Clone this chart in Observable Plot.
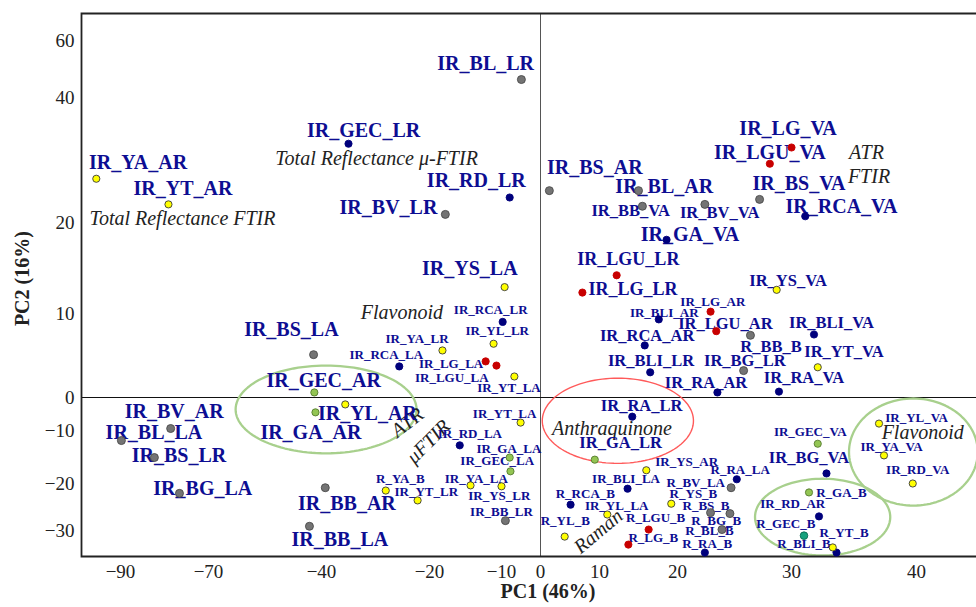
<!DOCTYPE html>
<html><head><meta charset="utf-8">
<script src="https://cdn.jsdelivr.net/npm/d3@7"></script>
<script src="https://cdn.jsdelivr.net/npm/@observablehq/plot@0.6"></script>
<style>html,body{margin:0;padding:0;background:#fff;overflow:hidden}</style>
</head><body><div id="chart"></div>
<script>
// ---------- data (PC scores) ----------
const names = ["IR_YA_AR","IR_YT_AR","IR_BL_LR","IR_GEC_LR","IR_RD_LR","IR_BV_LR","IR_BS_AR","IR_BL_AR","IR_BB_VA","IR_BV_VA","IR_GA_VA","IR_LGU_LR","IR_LG_VA","IR_LGU_VA","IR_BS_VA","IR_RCA_VA","IR_YS_VA","IR_LG_AR","IR_LGU_AR","IR_BLI_VA","R_BB_B","IR_YT_VA","IR_BG_LR","IR_RA_VA","IR_RA_AR","IR_BLI_LR","IR_RCA_AR","IR_BLI_AR","IR_LG_LR","IR_YS_LA","IR_RCA_LR","IR_YL_LR","IR_YA_LR","IR_RCA_LA","IR_LG_LA","IR_LGU_LA","IR_YT_LA","IR_YT_LA","IR_BS_LA","IR_GEC_AR","IR_YL_AR","IR_GA_AR","IR_BV_AR","IR_BL_LA","IR_BS_LR","IR_BG_LA","IR_BB_AR","IR_BB_LA","IR_RD_LA","IR_GA_LA","IR_GEC_LA","IR_YA_LA","IR_YS_LR","IR_BB_LR","R_YA_B","IR_YT_LR","R_YL_B","R_RCA_B","IR_RA_LR","IR_GA_LR","IR_YS_AR","R_RA_LA","IR_BLI_LA","R_BV_LA","R_YS_B","R_BS_B","R_BG_B","R_BL_B","R_RA_B","IR_YL_LA","R_LGU_B","R_LG_B","IR_GEC_VA","IR_BG_VA","R_GA_B","IR_RD_AR","R_GEC_B","R_YT_B","R_BLI_B","IR_YL_VA","IR_YA_VA","IR_RD_VA"];
const groups = ["yellow","yellow","grey","navy","navy","grey","grey","grey","grey","grey","navy","red","red","red","grey","navy","yellow","red","red","navy","grey","yellow","grey","navy","navy","navy","navy","navy","red","yellow","navy","yellow","yellow","navy","red","red","yellow","yellow","grey","green","yellow","green","grey","grey","grey","grey","grey","grey","navy","green","green","yellow","yellow","grey","yellow","yellow","yellow","navy","navy","green","yellow","navy","navy","grey","yellow","grey","grey","grey","navy","yellow","red","red","green","navy","green","navy","teal","yellow","navy","yellow","yellow","yellow"];
const pc1 = [-95.5,-79.1,-4.9,-35.0,-7.9,-17.8,1.5,15.0,15.5,22.4,18.6,12.2,30.0,28.1,27.2,31.1,28.7,22.9,23.4,31.8,26.4,32.1,25.8,28.9,23.5,16.5,15.8,17.6,7.1,-9.2,-9.7,-11.1,-18.2,-25.6,-12.2,-10.7,-6.7,-5.1,-42.1,-41.9,-35.6,-41.6,-78.6,-89.8,-82.3,-76.6,-39.3,-43.2,-15.8,-7.9,-7.7,-14.3,-10.0,-9.0,-28.1,-22.2,4.1,5.1,14.2,9.2,16.0,25.2,13.6,24.7,19.2,22.9,24.6,23.9,22.4,11.0,16.3,13.7,32.1,32.8,31.4,32.2,31.0,33.3,33.6,37.0,37.4,39.7];
const pc2 = [27.0,22.9,46.3,32.6,24.0,21.3,25.1,25.1,22.6,22.9,18.1,14.2,32.0,29.4,23.7,21.0,12.6,10.2,7.9,7.5,7.4,3.6,3.2,0.7,0.6,3.0,6.2,9.3,12.3,12.9,9.0,6.4,5.6,3.7,4.3,3.8,2.5,-7.6,5.1,0.6,-2.1,-4.5,-9.4,-11.9,-15.1,-22.1,-20.9,-29.1,-12.8,-15.1,-17.7,-20.4,-20.6,-27.9,-21.5,-23.6,-31.3,-24.5,-5.8,-15.5,-17.5,-19.2,-21.1,-20.9,-24.3,-26.2,-26.4,-29.8,-34.7,-26.6,-29.8,-33.0,-12.5,-18.1,-21.9,-27.0,-31.1,-33.6,-34.7,-7.9,-14.7,-20.0];
// where each sample name is written (in PC units)
const labelPC1 = [-86.0,-75.8,-12.2,-32.2,-13.5,-27.6,9.2,18.3,14.0,23.7,21.1,13.7,29.7,28.1,30.6,34.0,29.7,23.1,24.2,33.2,28.2,34.2,25.9,31.0,22.5,16.6,16.1,18.3,14.3,-14.4,-11.5,-10.6,-22.3,-28.0,-17.0,-16.9,-8.1,-9.2,-48.0,-39.6,-31.5,-42.8,-77.8,-82.4,-76.7,-71.3,-35.3,-36.6,-14.4,-8.1,-10.6,-13.5,-10.3,-10.0,-25.4,-20.6,4.2,7.6,15.4,12.7,20.8,25.5,13.4,21.6,21.4,22.5,23.4,22.8,22.6,12.2,17.2,16.9,31.5,31.4,34.0,30.1,29.5,34.2,31.0,40.0,38.0,40.1];
const labelPC2 = [29.6,25.4,51.9,34.7,26.7,22.4,28.8,25.8,21.9,21.6,18.7,16.0,35.0,31.2,26.2,22.6,13.6,11.3,8.8,8.9,6.1,5.4,4.4,2.4,1.8,4.4,7.4,10.1,12.7,14.9,10.4,7.9,7.0,5.1,4.0,2.4,1.1,-4.8,8.1,2.0,-4.8,-10.4,-4.2,-10.4,-14.7,-21.1,-24.3,-31.9,-10.6,-13.4,-15.8,-19.1,-22.6,-26.0,-19.1,-21.7,-27.9,-22.1,-2.4,-12.3,-16.0,-17.4,-19.2,-19.8,-22.1,-24.7,-27.9,-30.0,-32.8,-24.7,-27.2,-31.5,-10.2,-15.1,-21.9,-24.3,-28.5,-30.6,-32.8,-6.1,-13.0,-17.4];
const labelTier = ["L","L","L","L","L","L","L","L","M","M","L","L2","L","L","L","L","M","S","M","M","M","M","M","M","M","M","M","S","L2","L","S","S","S","S","S","S","S","S","L","L","L","L","L","L","L","L","L","L","S","S","S","S","S","S","S","S","S","S","M","M","S","S","S","S","S","S","S","S","S","S","S","S","S","M","S","S","S","S","S","S","S","S"];

// italic annotations
const noteText = ["Total Reflectance FTIR","Total Reflectance \u03bc-FTIR","ATR","FTIR","Flavonoid","ATR","\u03bcFTIR","Anthraquinone","Flavonoid","Raman"];
const notePC1 = [-75.9,-29.8,36.0,36.2,-25.1,-24.1,-20.2,11.6,40.5,9.8];
const notePC2 = [20.6,30.2,31.2,27.4,10.1,-7.6,-12.1,-9.4,-10.4,-30.2];
const noteAngle = [0,0,0,0,0,-38,-45,0,0,-40];

// grouping ellipses (bounds in PC units)
const ellipseName = ["ATR \u03bcFTIR","Anthraquinone","Raman","Flavonoid"];
const ellipseKind = ["green","red","green","green"];
const ellipsePC1 = [[-62.8,-22.4],[0.3,21.4],[26.8,37.9],[34.6,44.9]];
const ellipsePC2 = [[-14.3,3.8],[-16.2,2.3],[-35.3,-19.1],[-24.7,-0.3]];

// axis ticks (the figure's axes are non-uniform)
const xTicks = [-90,-70,-40,-20,-10,0,10,20,30,40];
const yTicks = [-30,-20,-10,0,10,20,40,60];
const axisTitles = ["PC1 (46%)","PC2 (16%)"];
const yTitleAt = 8.5; // PC2 value at which the rotated y title is centred

// ---------- layout ----------
const W = 976, H = 607, mL = 81, mT = 13, mR = 0, mB = 51;
const xStops = [120,208,321,429,501,540,599,677,791,916];
const yStops = [530,483,430,397,313,222,97,40];
const serif = "'Liberation Serif', 'Times New Roman', serif";
const labelColor = "#0d0d92";
const dotStyle = {
  grey:   {fill:"#747474", stroke:"#4a4a4a", r:4},
  navy:   {fill:"#00007c", stroke:"#00007c", r:3.6},
  red:    {fill:"#c80000", stroke:"#c80000", r:3.6},
  yellow: {fill:"#ffff00", stroke:"#3a3a3a", r:3.6},
  green:  {fill:"#93c553", stroke:"#557a2e", r:3.6},
  teal:   {fill:"#16a27c", stroke:"#0b6a50", r:3.8}
};
const ellipseStroke = {green:"#a8d08d", red:"#ff5a5a"};
const tierSize = {L:20, L2:18, M:16.5, S:13};

const rows = names.map((n,i)=>({name:n, group:groups[i], x:pc1[i], y:pc2[i], lx:labelPC1[i], ly:labelPC2[i], tier:labelTier[i]}));
const notes = noteText.map((t,i)=>({t, x:notePC1[i], y:notePC2[i], a:noteAngle[i]}));

const xCal = d3.scaleLinear().domain(xTicks).range(xStops);
const yCal = d3.scaleLinear().domain(yTicks).range(yStops);
function ellipsePts(i){
  const a = xCal(ellipsePC1[i][0]), b = xCal(ellipsePC1[i][1]);
  const c = yCal(ellipsePC2[i][1]), d = yCal(ellipsePC2[i][0]);
  const cx=(a+b)/2, cy=(c+d)/2, rx=(b-a)/2, ry=Math.abs(d-c)/2;
  return d3.range(0,121).map(k=>{const t=k/120*2*Math.PI;
    return {x:xCal.invert(cx+rx*Math.cos(t)), y:yCal.invert(cy+ry*Math.sin(t))};});
}
const fmt = d => String(d).replace("-", "\u2212");
const fw = W - mL - mR, fh = H - mT - mB;

const marks = [
  Plot.ruleX([0], {stroke:"#555", strokeWidth:1}),
  Plot.ruleY([0], {stroke:"#111", strokeWidth:1}),
  ...ellipseName.map((n,i)=>Plot.line(ellipsePts(i), {x:"x", y:"y", stroke:ellipseStroke[ellipseKind[i]], strokeWidth: ellipseKind[i]==="red"?1.4:2.3})),
  Plot.frame({stroke:"#222", strokeWidth:1.8, strokeDasharray:`${fw} ${fh} ${fw+fh}`}),
  Plot.axisX({ticks:xTicks, tickSize:0, tickPadding:8, tickFormat:fmt, label:null, fontSize:19, fontFamily:serif, fill:"#222"}),
  Plot.axisY({ticks:yTicks, tickSize:0, tickPadding:7, tickFormat:fmt, label:null, fontSize:19, fontFamily:serif, fill:"#222"}),
  Plot.text([axisTitles[0]], {text:d=>d, frameAnchor:"bottom", dx:19, dy:41, fontSize:20, fontWeight:"bold", fontFamily:serif, fill:"#222"}),
  Plot.text([axisTitles[1]], {text:d=>d, y:()=>yTitleAt, frameAnchor:"left", rotate:-90, dx:-59, fontSize:20, fontWeight:"bold", fontFamily:serif, fill:"#222"}),
  Plot.text(notes, {x:"x", y:"y", text:"t", rotate:"a", fontSize:20, fontStyle:"italic", fontFamily:serif, fill:"#222"}),
  ...Object.entries(tierSize).map(([t,s])=>Plot.text(rows.filter(r=>r.tier===t), {x:"lx", y:"ly", text:"name", fontSize:s, fontWeight:"bold", fontFamily:serif, fill:labelColor})),
  ...Object.entries(dotStyle).map(([g,st])=>Plot.dot(rows.filter(r=>r.group===g), {x:"x", y:"y", r:st.r, fill:st.fill, stroke:st.stroke, strokeWidth:0.9}))
];

const chart = Plot.plot({
  width: W, height: H,
  marginLeft: mL, marginTop: mT, marginRight: mR, marginBottom: mB,
  x: {type:"linear", domain: xTicks, range: xStops},
  y: {type:"linear", domain: yTicks, range: yStops},
  style: {fontFamily: serif, fontSize: "19px", background: "#fff", color: "#222"},
  marks
});
document.getElementById("chart").appendChild(chart);
</script>
</body></html>
